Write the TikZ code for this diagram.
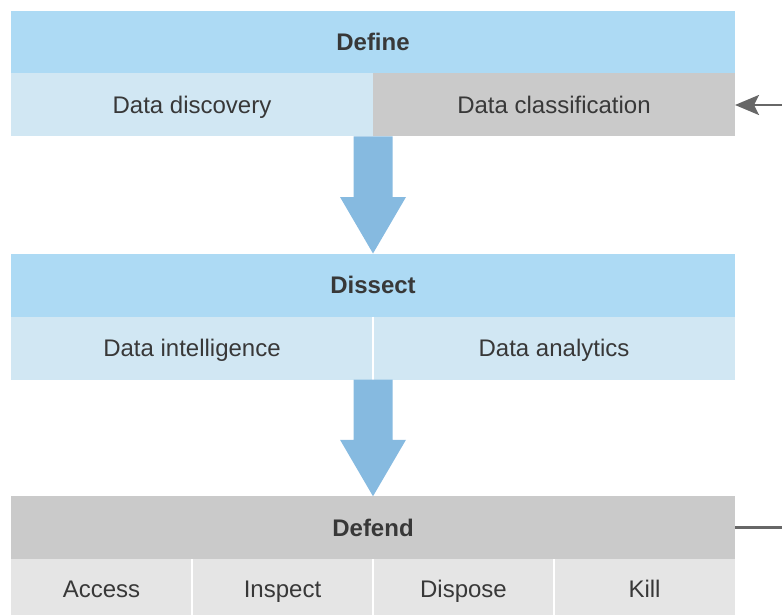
\documentclass[tikz,border=0pt]{standalone}
\usepackage{fontspec}
\setmainfont{Liberation Sans}
\usetikzlibrary{calc,arrows.meta}
\definecolor{headblue}{HTML}{ADDAF4}
\definecolor{rowblue}{HTML}{D1E7F3}
\definecolor{headgray}{HTML}{CACACA}
\definecolor{rowgray}{HTML}{E5E5E5}
\definecolor{arrowblue}{HTML}{86BAE0}
\definecolor{txt}{HTML}{383838}
\definecolor{linegray}{HTML}{676767}
\tikzset{
  cell/.style={rectangle, inner sep=0pt, outer sep=0pt, minimum height=63pt,
    text=txt, text height=17.2pt, text depth=0pt,
    font=\fontsize{24}{28}\selectfont},
  header/.style={cell, minimum width=724pt, font=\fontsize{24}{28}\selectfont\bfseries},
  half/.style={cell, minimum width=362pt},
  quarter/.style={cell, minimum width=181pt, minimum height=59pt},
  divider/.style={white, line width=2.5pt},
  sideline/.style={linegray, line width=2.6pt},
  blockarrow/.style={arrowblue, to path={
    let \p1=(\tikztostart), \p2=(\tikztotarget) in
    (\x1-19.5pt,\y1) -- (\x1+19.5pt,\y1) -- (\x1+19.5pt,\y2+56.5pt)
    -- (\x1+33pt,\y2+56.5pt) -- (\x2,\y2) -- (\x1-33pt,\y2+56.5pt)
    -- (\x1-19.5pt,\y2+56.5pt) -- cycle}}
}
\begin{document}
\begin{tikzpicture}[x=1pt,y=-1pt]
\useasboundingbox (0,0) rectangle (782,615);
\begin{scope}
\clip (0,0) rectangle (782,615);

% Define
\node[header, fill=headblue] (define) at (373,42.25) {Define};
\node[half, fill=rowblue] (discovery) at (192,105) {Data discovery};
\node[half, fill=headgray] (classif) at (554,105) {Data classification};

% Dissect
\node[header, fill=headblue] (dissect) at (373,285) {Dissect};
\node[half, fill=rowblue] (intel) at (192,348) {Data intelligence};
\node[half, fill=rowblue] (analytics) at (554,348) {Data analytics};
\draw[divider] (intel.north east) -- (intel.south east);

% Defend
\node[header, fill=headgray] (defend) at (373,527.75) {Defend};
\node[quarter, fill=rowgray] (access) at (101.5,588.5) {Access};
\node[quarter, fill=rowgray] (inspect) at (282.5,588.5) {Inspect};
\node[quarter, fill=rowgray] (dispose) at (463.5,588.5) {Dispose};
\node[quarter, fill=rowgray] (kill) at (644.5,588.5) {Kill};
\draw[divider] (access.north east) -- (access.south east);
\draw[divider] (inspect.north east) -- (inspect.south east);
\draw[divider] (dispose.north east) -- (dispose.south east);

% flow between the stages
\fill[blockarrow] (discovery.south east) to (dissect.north);
\fill[blockarrow] (intel.south east) to (defend.north);

% side connectors
\coordinate (feedin) at (782,105);
\coordinate (feedout) at (782,527.75);
\draw[sideline, -{Stealth[length=24pt,width=20pt,inset=5pt]}] (feedin) -- (classif.east);
\draw[sideline] (defend.east) -- (feedout);
\end{scope}
\end{tikzpicture}
\end{document}
